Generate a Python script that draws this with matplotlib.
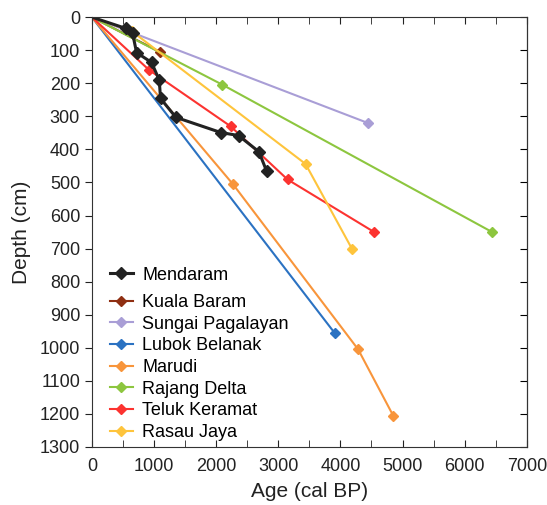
import matplotlib.pyplot as plt
from matplotlib.ticker import MultipleLocator

plt.rcParams['font.family'] = ['Liberation Sans', 'DejaVu Sans']

# -----------------------------
# Datos (edad cal BP, profundidad cm)
# -----------------------------
mendaram_age = [0, 547, 655, 719, 960, 1084, 1105, 1352, 2076, 2360, 2688, 2811]
mendaram_depth = [0, 34, 49, 107, 137, 190, 246, 303, 349, 358, 407, 465]

kuala_age = [0, 1094]
kuala_depth = [0, 105]

sungai_age = [0, 4441]
sungai_depth = [0, 320]

lubok_age = [0, 3910]
lubok_depth = [0, 956]

marudi_age = [0, 2274, 4286, 4849]
marudi_depth = [0, 506, 1005, 1205]

rajang_age = [0, 2097, 6442]
rajang_depth = [0, 204, 650]

teluk_age = [0, 922, 2232, 3149, 4543]
teluk_depth = [0, 160, 330, 491, 650]

rasau_age = [0, 640, 3439, 4190]
rasau_depth = [0, 42, 444, 702]

series = [
    ("Kuala Baram", kuala_age, kuala_depth, "#8f2f12"),
    ("Sungai Pagalayan", sungai_age, sungai_depth, "#a99ed6"),
    ("Lubok Belanak", lubok_age, lubok_depth, "#2b72c2"),
    ("Marudi", marudi_age, marudi_depth, "#f8953b"),
    ("Rajang Delta", rajang_age, rajang_depth, "#8dc63f"),
    ("Teluk Keramat", teluk_age, teluk_depth, "#fc3330"),
    ("Rasau Jaya", rasau_age, rasau_depth, "#fec43c"),
]

fig = plt.figure(figsize=(5.47, 5.05), dpi=100)
ax = fig.add_axes([0.168, 0.115, 0.795, 0.851])

handles = []
for name, a, d, c in series:
    h, = ax.plot(a, d, color=c, lw=1.5, marker="D", ms=5.5, markevery=list(range(1, len(a))),
                 label=name)
    handles.append(h)

hm, = ax.plot(mendaram_age, mendaram_depth, color="#222222", lw=2.2, marker="D", ms=6,
              markevery=list(range(1, len(mendaram_age))), label="Mendaram")

ax.set_xlim(0, 7000)
ax.set_ylim(1300, 0)
ax.xaxis.set_major_locator(MultipleLocator(1000))
ax.xaxis.set_minor_locator(MultipleLocator(500))
ax.yaxis.set_major_locator(MultipleLocator(100))
ax.tick_params(axis="x", which="both", direction="in", top=True, length=5, pad=8,
               labelsize=13, colors="#222222")
ax.tick_params(axis="y", direction="out", length=5, labelsize=13, colors="#222222")
sec = ax.secondary_yaxis("right")
sec.yaxis.set_major_locator(MultipleLocator(100))
sec.tick_params(direction="in", length=5, labelright=False)

for s in ax.spines.values():
    s.set_color("#333333")

ax.set_xlabel("Age (cal BP)", fontsize=15, color="#222222", labelpad=5)
ax.set_ylabel("Depth (cm)", fontsize=15, color="#222222", labelpad=6)

leg1 = ax.legend(handles=[hm], loc="center left", bbox_to_anchor=(0.02, 0.40), frameon=False,
                 fontsize=13, handlelength=1.3, handletextpad=0.5, borderpad=0)
ax.add_artist(leg1)
ax.legend(handles=handles, loc="center left", bbox_to_anchor=(0.02, 0.185), frameon=False,
          fontsize=13, handlelength=1.3, handletextpad=0.5, borderpad=0, labelspacing=0.26)

plt.savefig("out.png")
